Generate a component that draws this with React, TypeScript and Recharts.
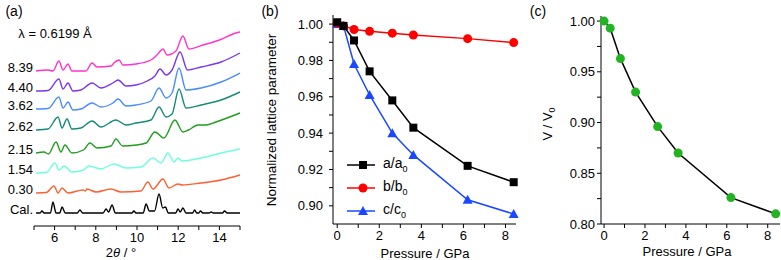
import React from "react";
import { Legend, Line, LineChart, XAxis, YAxis } from "recharts";

// (a) powder patterns, [2theta, intensity + stacking offset]
const calPattern = [
  [5.1, 13], [5.3, 13], [5.38, 15], [5.5, 13], [5.8, 13], [5.92, 24], [6.07, 13], [6.25, 13],
  [6.36, 19], [6.52, 13], [7.1, 13], [7.23, 16], [7.36, 13], [8.35, 13], [8.5, 17], [8.62, 14],
  [8.79, 21], [8.95, 13], [9.75, 13], [9.85, 15], [9.95, 13], [10.3, 13], [10.44, 22], [10.6, 15],
  [10.85, 15], [11.07, 32], [11.25, 18], [11.38, 19], [11.52, 13], [11.88, 13], [11.99, 17],
  [12.1, 14], [12.23, 18], [12.38, 13], [12.7, 13], [12.8, 16], [12.9, 13], [13.0, 13], [13.08, 15],
  [13.2, 13], [13.5, 13], [13.6, 14], [13.7, 13], [14.15, 13], [14.25, 15], [14.38, 13], [15, 13],
];
const p030 = [
  [5.1, 33], [5.6, 33.5], [5.97, 40], [6.17, 33], [6.36, 38], [6.65, 33], [7.38, 36], [7.5, 35],
  [7.57, 37], [8.01, 34], [8.74, 37], [9.22, 34], [10.19, 35], [10.53, 44], [10.78, 37],
  [11.26, 47], [11.55, 38], [11.99, 42], [12.2, 41], [13.11, 43], [14.08, 46], [15, 51],
];
const p154 = [
  [5.1, 53], [5.6, 53.5], [6.02, 63], [6.21, 56], [6.46, 60], [6.84, 54], [7.4, 56], [7.67, 60],
  [8.25, 57], [8.88, 62], [9.47, 58], [10.19, 59], [10.78, 68], [11.17, 63], [11.5, 73],
  [11.8, 64], [11.99, 68], [12.18, 65], [13.11, 68], [14.08, 73], [15, 77],
];
const p215 = [
  [5.1, 73], [5.49, 74], [5.7, 72], [6.07, 84], [6.31, 74], [6.5, 81], [6.84, 73], [7.4, 76],
  [7.72, 83], [8.06, 78], [8.74, 80], [8.98, 87], [9.3, 80], [9.95, 81], [10.44, 83], [10.87, 94],
  [11.31, 88], [11.84, 106], [12.23, 94], [12.5, 96], [12.96, 101], [13.35, 101], [13.83, 104],
  [15, 113],
];
const p262 = [
  [5.1, 96], [5.68, 97], [6.17, 109], [6.36, 98], [6.6, 107], [6.84, 97], [7.28, 98], [7.82, 105],
  [8.25, 99], [8.98, 106], [9.47, 101], [9.95, 103], [10.68, 106], [11.07, 119], [11.41, 109],
  [11.7, 112], [12.04, 137], [12.38, 118], [13.11, 121], [14.08, 126], [15, 134],
];
const p362 = [
  [5.1, 117], [5.68, 117.5], [6.21, 129], [6.41, 118], [6.65, 124], [6.89, 116], [7.28, 117],
  [7.82, 123], [8.25, 119], [8.83, 123], [9.08, 127], [9.47, 120], [9.95, 121], [10.68, 125],
  [11.07, 138], [11.41, 128], [11.7, 133], [12.04, 158], [12.38, 136], [13.11, 138], [14.08, 144],
  [15, 153],
];
const p440 = [
  [5.1, 135], [5.68, 135.5], [6.21, 147], [6.41, 137], [6.65, 143], [6.89, 135], [7.28, 136],
  [7.82, 143], [8.25, 138], [8.83, 143], [9.08, 146], [9.47, 140], [9.95, 141], [10.5, 145],
  [10.87, 150], [11.12, 157], [11.41, 151], [11.7, 156], [12.09, 174], [12.45, 156], [13.11, 159],
  [14.08, 164], [15, 173],
];
const p839 = [
  [5.1, 155], [5.68, 156], [5.92, 155], [6.21, 165], [6.41, 156], [6.65, 162], [6.84, 155],
  [7.52, 155], [7.82, 163], [8.06, 159], [8.74, 160], [8.88, 163], [9.13, 166], [9.32, 161],
  [9.95, 162], [10.68, 166], [10.97, 171], [11.26, 177], [11.46, 171], [11.89, 175], [12.23, 190],
  [12.52, 177], [13.2, 181], [14.0, 186], [14.8, 193], [15, 194],
];
const patterns = [calPattern, p030, p154, p215, p262, p362, p440, p839];
const patternLabels = ["Cal.", "0.30", "1.54", "2.15", "2.62", "3.62", "4.40", "8.39"];
const patternColors = ["#000000", "#ff6030", "#6effe0", "#1f9e1f", "#168a78", "#4a8cff", "#7a35f0", "#ff33cc"];
const thetaTicks = [5, 6, 7, 8, 9, 10, 11, 12, 13, 14, 15];

// (b) and (c) pressure dependence
const pressure = [0, 0.3, 0.8, 1.54, 2.62, 3.62, 6.2, 8.39];
const aRatio = [1.001, 0.999, 0.991, 0.974, 0.958, 0.943, 0.922, 0.913];
const bRatio = [1.0005, 0.999, 0.997, 0.996, 0.995, 0.994, 0.992, 0.9898];
const cRatio = [1.0, 0.999, 0.978, 0.961, 0.94, 0.928, 0.9033, 0.8955];
const volumeRatio = [1.0, 0.993, 0.963, 0.93, 0.896, 0.87, 0.826, 0.81];
const pressureTicks = [0, 1, 2, 3, 4, 5, 6, 7, 8];
const latticeTicks = [0.9, 0.91, 0.92, 0.93, 0.94, 0.95, 0.96, 0.97, 0.98, 0.99, 1.0];
const volumeTicks = [0.8, 0.825, 0.85, 0.875, 0.9, 0.925, 0.95, 0.975, 1.0];

const latticeRows = pressure.map((p, i) => ({ p, a: aRatio[i], b: bRatio[i], c: cRatio[i] }));
const volumeRows = pressure.map((p, i) => ({ p, v: volumeRatio[i] }));

const FONT = "Arial, 'Liberation Sans', sans-serif";
const tickStyle = { fill: "#000", fontSize: 13 };

const Square = (props: any) => {
  const { cx, cy, index } = props;
  return <rect key={index} x={cx - 4} y={cy - 4} width={8} height={8} fill="#000" />;
};
const Circle = (props: any) => {
  const { cx, cy, index, fill } = props;
  return <circle key={index} cx={cx} cy={cy} r={4.5} fill={fill || "#ff0000"} />;
};
const Triangle = (props: any) => {
  const { cx, cy, index } = props;
  return <polygon key={index} points={`${cx},${cy - 5} ${cx + 5},${cy + 4} ${cx - 5},${cy + 4}`} fill="#1a47ff" />;
};

const legendRows = [
  { name: "a/a", color: "#000", marker: "square" },
  { name: "b/b", color: "#ff0000", marker: "circle" },
  { name: "c/c", color: "#1a47ff", marker: "triangle" },
];

const LatticeLegend = () => (
  <div style={{ fontFamily: FONT, fontSize: 14 }}>
    {legendRows.map((r) => (
      <div key={r.name} style={{ display: "flex", alignItems: "center", height: 23 }}>
        <svg width={34} height={12}>
          <line x1={0} y1={6} x2={28} y2={6} stroke={r.color} strokeWidth={1.5} />
          {r.marker === "square" && <rect x={12} y={2} width={8} height={8} fill={r.color} />}
          {r.marker === "circle" && <circle cx={16} cy={6} r={4.5} fill={r.color} />}
          {r.marker === "triangle" && <polygon points="16,1 21,10 11,10" fill={r.color} />}
        </svg>
        <span style={{ marginLeft: 2 }}>
          {r.name}
          <sub style={{ fontSize: 9 }}>0</sub>
        </span>
      </div>
    ))}
  </div>
);

const Txt = ({ x, y, size = 13, rotate = 0, children }: any) => (
  <div
    style={{
      position: "absolute",
      left: x,
      top: y,
      fontSize: size,
      lineHeight: 1,
      whiteSpace: "nowrap",
      transform: `translate(-50%, -50%) rotate(${rotate}deg)`,
    }}
  >
    {children}
  </div>
);

export default function App() {
  return (
    <div style={{ position: "absolute", left: 0, top: 0, width: 781, height: 260, fontFamily: FONT, color: "#000", background: "#fff", overflow: "hidden" }}>
      {/* (a) */}
      <div style={{ position: "absolute", left: 0, top: 0 }}>
        <LineChart width={260} height={260} margin={{ top: 20, right: 20, bottom: 14, left: 0 }}>
          <XAxis
            type="number"
            dataKey="x"
            domain={[5, 15]}
            ticks={thetaTicks}
            interval={0}
            tickFormatter={(v: number) => (v % 2 === 0 ? String(v) : "")}
            height={20}
            tickSize={4}
            tickMargin={3}
            stroke="#000"
            tick={tickStyle}
          />
          <YAxis
            type="number"
            domain={[0, 206]}
            ticks={patterns.map((p) => p[0][1] + 4)}
            interval={0}
            tickFormatter={(_v: number, i: number) => patternLabels[i]}
            axisLine={false}
            tickLine={false}
            width={34}
            tickSize={0}
            tickMargin={1}
            tick={tickStyle}
          />
          {patterns.map((p, i) => (
            <Line
              key={patternLabels[i]}
              data={p.map(([x, y]) => ({ x, y }))}
              dataKey="y"
              type="monotone"
              stroke={patternColors[i]}
              strokeWidth={1.4}
              dot={false}
              isAnimationActive={false}
            />
          ))}
        </LineChart>
      </div>

      {/* (b) */}
      <div style={{ position: "absolute", left: 260, top: 0 }}>
        <LineChart width={270} height={260} data={latticeRows} margin={{ top: 15, right: 14, bottom: 16, left: 0 }}>
          <XAxis
            type="number"
            dataKey="p"
            domain={[-0.2, 8.5]}
            ticks={pressureTicks}
            interval={0}
            tickFormatter={(v: number) => (v % 2 === 0 ? String(v) : "")}
            height={20}
            tickSize={4}
            tickMargin={3}
            stroke="#000"
            tick={tickStyle}
          />
          <YAxis
            type="number"
            domain={[0.89, 1.005]}
            ticks={latticeTicks}
            interval={0}
            tickFormatter={(v: number) => (Math.round(v * 100) % 2 === 0 ? v.toFixed(2) : "")}
            width={73}
            tickSize={4}
            tickMargin={6}
            stroke="#000"
            tick={tickStyle}
          />
          <Line dataKey="c" name="c/c0" stroke="#1a47ff" strokeWidth={1.5} dot={<Triangle />} isAnimationActive={false} />
          <Line dataKey="b" name="b/b0" stroke="#ff0000" strokeWidth={1.5} dot={<Circle fill="#ff0000" />} isAnimationActive={false} />
          <Line dataKey="a" name="a/a0" stroke="#000" strokeWidth={1.5} dot={<Square />} isAnimationActive={false} />
          <Legend
            layout="vertical"
            align="center"
            verticalAlign="middle"
            content={() => <LatticeLegend />}
            wrapperStyle={{ left: 87, top: 153, width: 110 }}
          />
        </LineChart>
      </div>

      {/* (c) */}
      <div style={{ position: "absolute", left: 530, top: 0 }}>
        <LineChart width={251} height={260} data={volumeRows} margin={{ top: 16, right: 1, bottom: 16, left: 0 }}>
          <XAxis
            type="number"
            dataKey="p"
            domain={[-0.15, 8.6]}
            ticks={pressureTicks}
            interval={0}
            tickFormatter={(v: number) => (v % 2 === 0 ? String(v) : "")}
            height={20}
            tickSize={4}
            tickMargin={3}
            stroke="#000"
            tick={tickStyle}
          />
          <YAxis
            type="number"
            domain={[0.8, 1.005]}
            ticks={volumeTicks}
            interval={0}
            tickFormatter={(v: number) => (Math.round(v * 1000) % 50 === 0 ? v.toFixed(2) : "")}
            width={71}
            tickSize={4}
            tickMargin={2}
            stroke="#000"
            tick={tickStyle}
          />
          <Line dataKey="v" stroke="#000" strokeWidth={1.5} dot={<Circle fill="#22b322" />} isAnimationActive={false} />
        </LineChart>
      </div>

      {/* titles */}
      <Txt x={14} y={11} size={14}>(a)</Txt>
      <Txt x={270} y={11} size={14}>(b)</Txt>
      <Txt x={538} y={11} size={14}>(c)</Txt>
      <Txt x={55} y={33} size={13}>λ = 0.6199 Å</Txt>
      <Txt x={121} y={252} size={13}>
        2<i>θ</i> / °
      </Txt>
      <Txt x={425} y={253} size={13}>Pressure / GPa</Txt>
      <Txt x={687} y={251} size={13}>Pressure / GPa</Txt>
      <Txt x={272} y={120} size={13.5} rotate={-90}>Normalized lattice parameter</Txt>
      <Txt x={549} y={124} size={13} rotate={-90}>
        V / V<sub style={{ fontSize: 9 }}>0</sub>
      </Txt>
    </div>
  );
}
